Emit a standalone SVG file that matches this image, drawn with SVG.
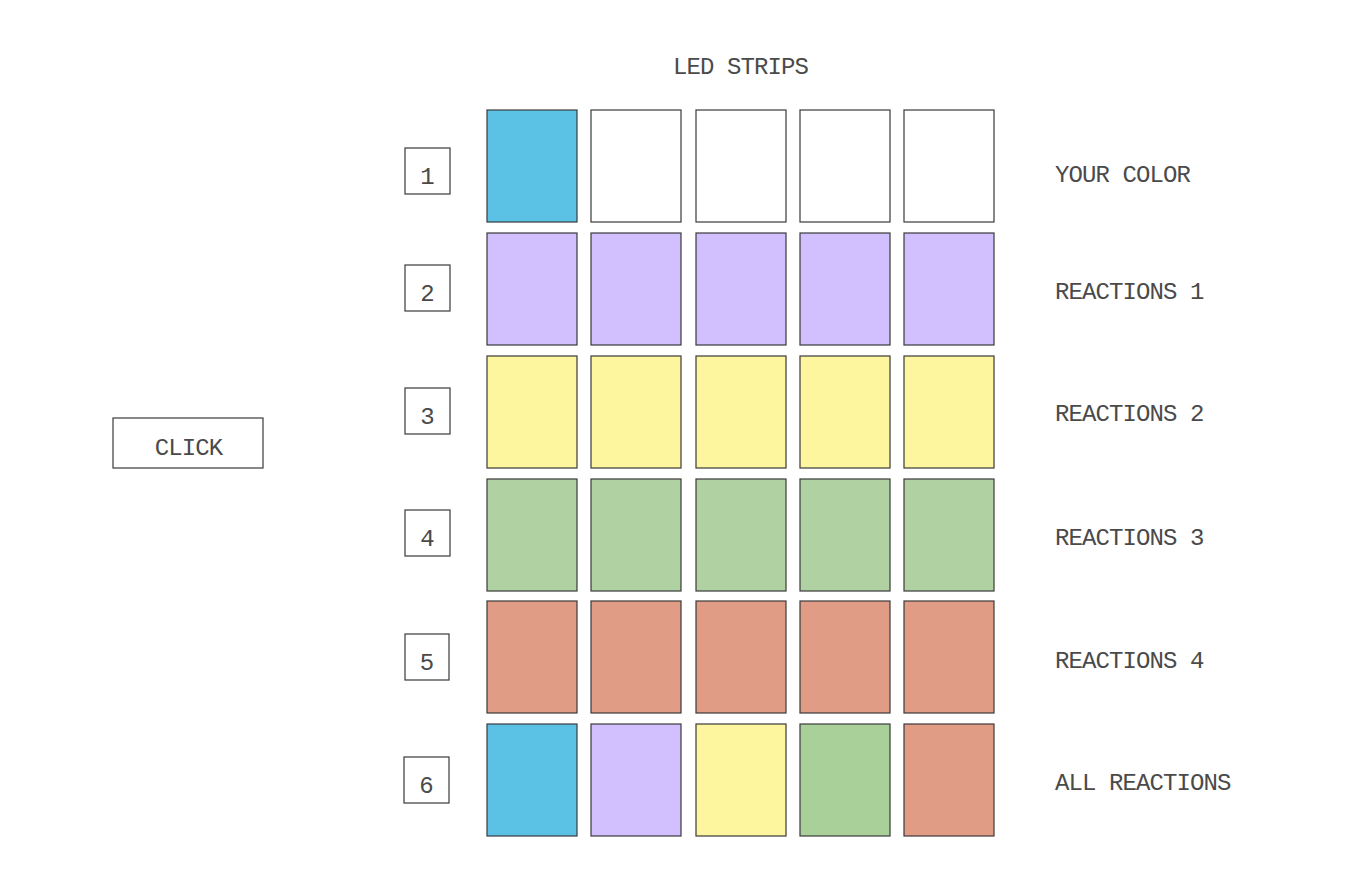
<svg xmlns="http://www.w3.org/2000/svg" width="1367" height="896" viewBox="0 0 1367 896">
<style>
text{font-family:"Liberation Mono","DejaVu Sans Mono",monospace;font-size:24px;letter-spacing:-0.9px;fill:#4a4a4a}
.c{stroke:#3a3a3a;stroke-width:1.2}
.b{fill:#fff;stroke:#3a3a3a;stroke-width:1.2}
.bl{fill:#5BC2E5}.pu{fill:#D2BFFE}.ye{fill:#FEF69F}.gr{fill:#B0D2A2}.sa{fill:#E09C85}.wh{fill:#fff}
.m{text-anchor:middle}
.n{letter-spacing:0}
</style>
<rect width="1367" height="896" fill="#fff"/>
<g id="title"><text x="740.5" y="74" class="m">LED STRIPS</text></g>
<g id="click"><rect x="113" y="418" width="150" height="50" class="b"/><text x="188.5" y="455" class="m">CLICK</text></g>
<g id="row1">
<rect x="405" y="148" width="45" height="46" class="b"/><text x="427.5" y="184" class="m n">1</text>
<rect x="487" y="110" width="90" height="112" class="c bl"/>
<rect x="591" y="110" width="90" height="112" class="c wh"/>
<rect x="696" y="110" width="90" height="112" class="c wh"/>
<rect x="800" y="110" width="90" height="112" class="c wh"/>
<rect x="904" y="110" width="90" height="112" class="c wh"/>
<text x="1055" y="182">YOUR COLOR</text>
</g>
<g id="row2">
<rect x="405" y="265" width="45" height="46" class="b"/><text x="427.5" y="301" class="m n">2</text>
<rect x="487" y="233" width="90" height="112" class="c pu"/>
<rect x="591" y="233" width="90" height="112" class="c pu"/>
<rect x="696" y="233" width="90" height="112" class="c pu"/>
<rect x="800" y="233" width="90" height="112" class="c pu"/>
<rect x="904" y="233" width="90" height="112" class="c pu"/>
<text x="1055" y="299">REACTIONS 1</text>
</g>
<g id="row3">
<rect x="405" y="388" width="45" height="46" class="b"/><text x="427.5" y="424" class="m n">3</text>
<rect x="487" y="356" width="90" height="112" class="c ye"/>
<rect x="591" y="356" width="90" height="112" class="c ye"/>
<rect x="696" y="356" width="90" height="112" class="c ye"/>
<rect x="800" y="356" width="90" height="112" class="c ye"/>
<rect x="904" y="356" width="90" height="112" class="c ye"/>
<text x="1055" y="421">REACTIONS 2</text>
</g>
<g id="row4">
<rect x="405" y="510" width="45" height="46" class="b"/><text x="427.5" y="546" class="m n">4</text>
<rect x="487" y="479" width="90" height="112" class="c gr"/>
<rect x="591" y="479" width="90" height="112" class="c gr"/>
<rect x="696" y="479" width="90" height="112" class="c gr"/>
<rect x="800" y="479" width="90" height="112" class="c gr"/>
<rect x="904" y="479" width="90" height="112" class="c gr"/>
<text x="1055" y="545">REACTIONS 3</text>
</g>
<g id="row5">
<rect x="405" y="634" width="44" height="46" class="b"/><text x="427" y="670" class="m n">5</text>
<rect x="487" y="601" width="90" height="112" class="c sa"/>
<rect x="591" y="601" width="90" height="112" class="c sa"/>
<rect x="696" y="601" width="90" height="112" class="c sa"/>
<rect x="800" y="601" width="90" height="112" class="c sa"/>
<rect x="904" y="601" width="90" height="112" class="c sa"/>
<text x="1055" y="668">REACTIONS 4</text>
</g>
<g id="row6">
<rect x="404" y="757" width="45" height="46" class="b"/><text x="426.5" y="793" class="m n">6</text>
<rect x="487" y="724" width="90" height="112" class="c bl"/>
<rect x="591" y="724" width="90" height="112" class="c pu"/>
<rect x="696" y="724" width="90" height="112" class="c ye"/>
<rect x="800" y="724" width="90" height="112" class="c" fill="#A9D099"/>
<rect x="904" y="724" width="90" height="112" class="c sa"/>
<text x="1055" y="790">ALL REACTIONS</text>
</g>
<g id="connectors"/>
</svg>
